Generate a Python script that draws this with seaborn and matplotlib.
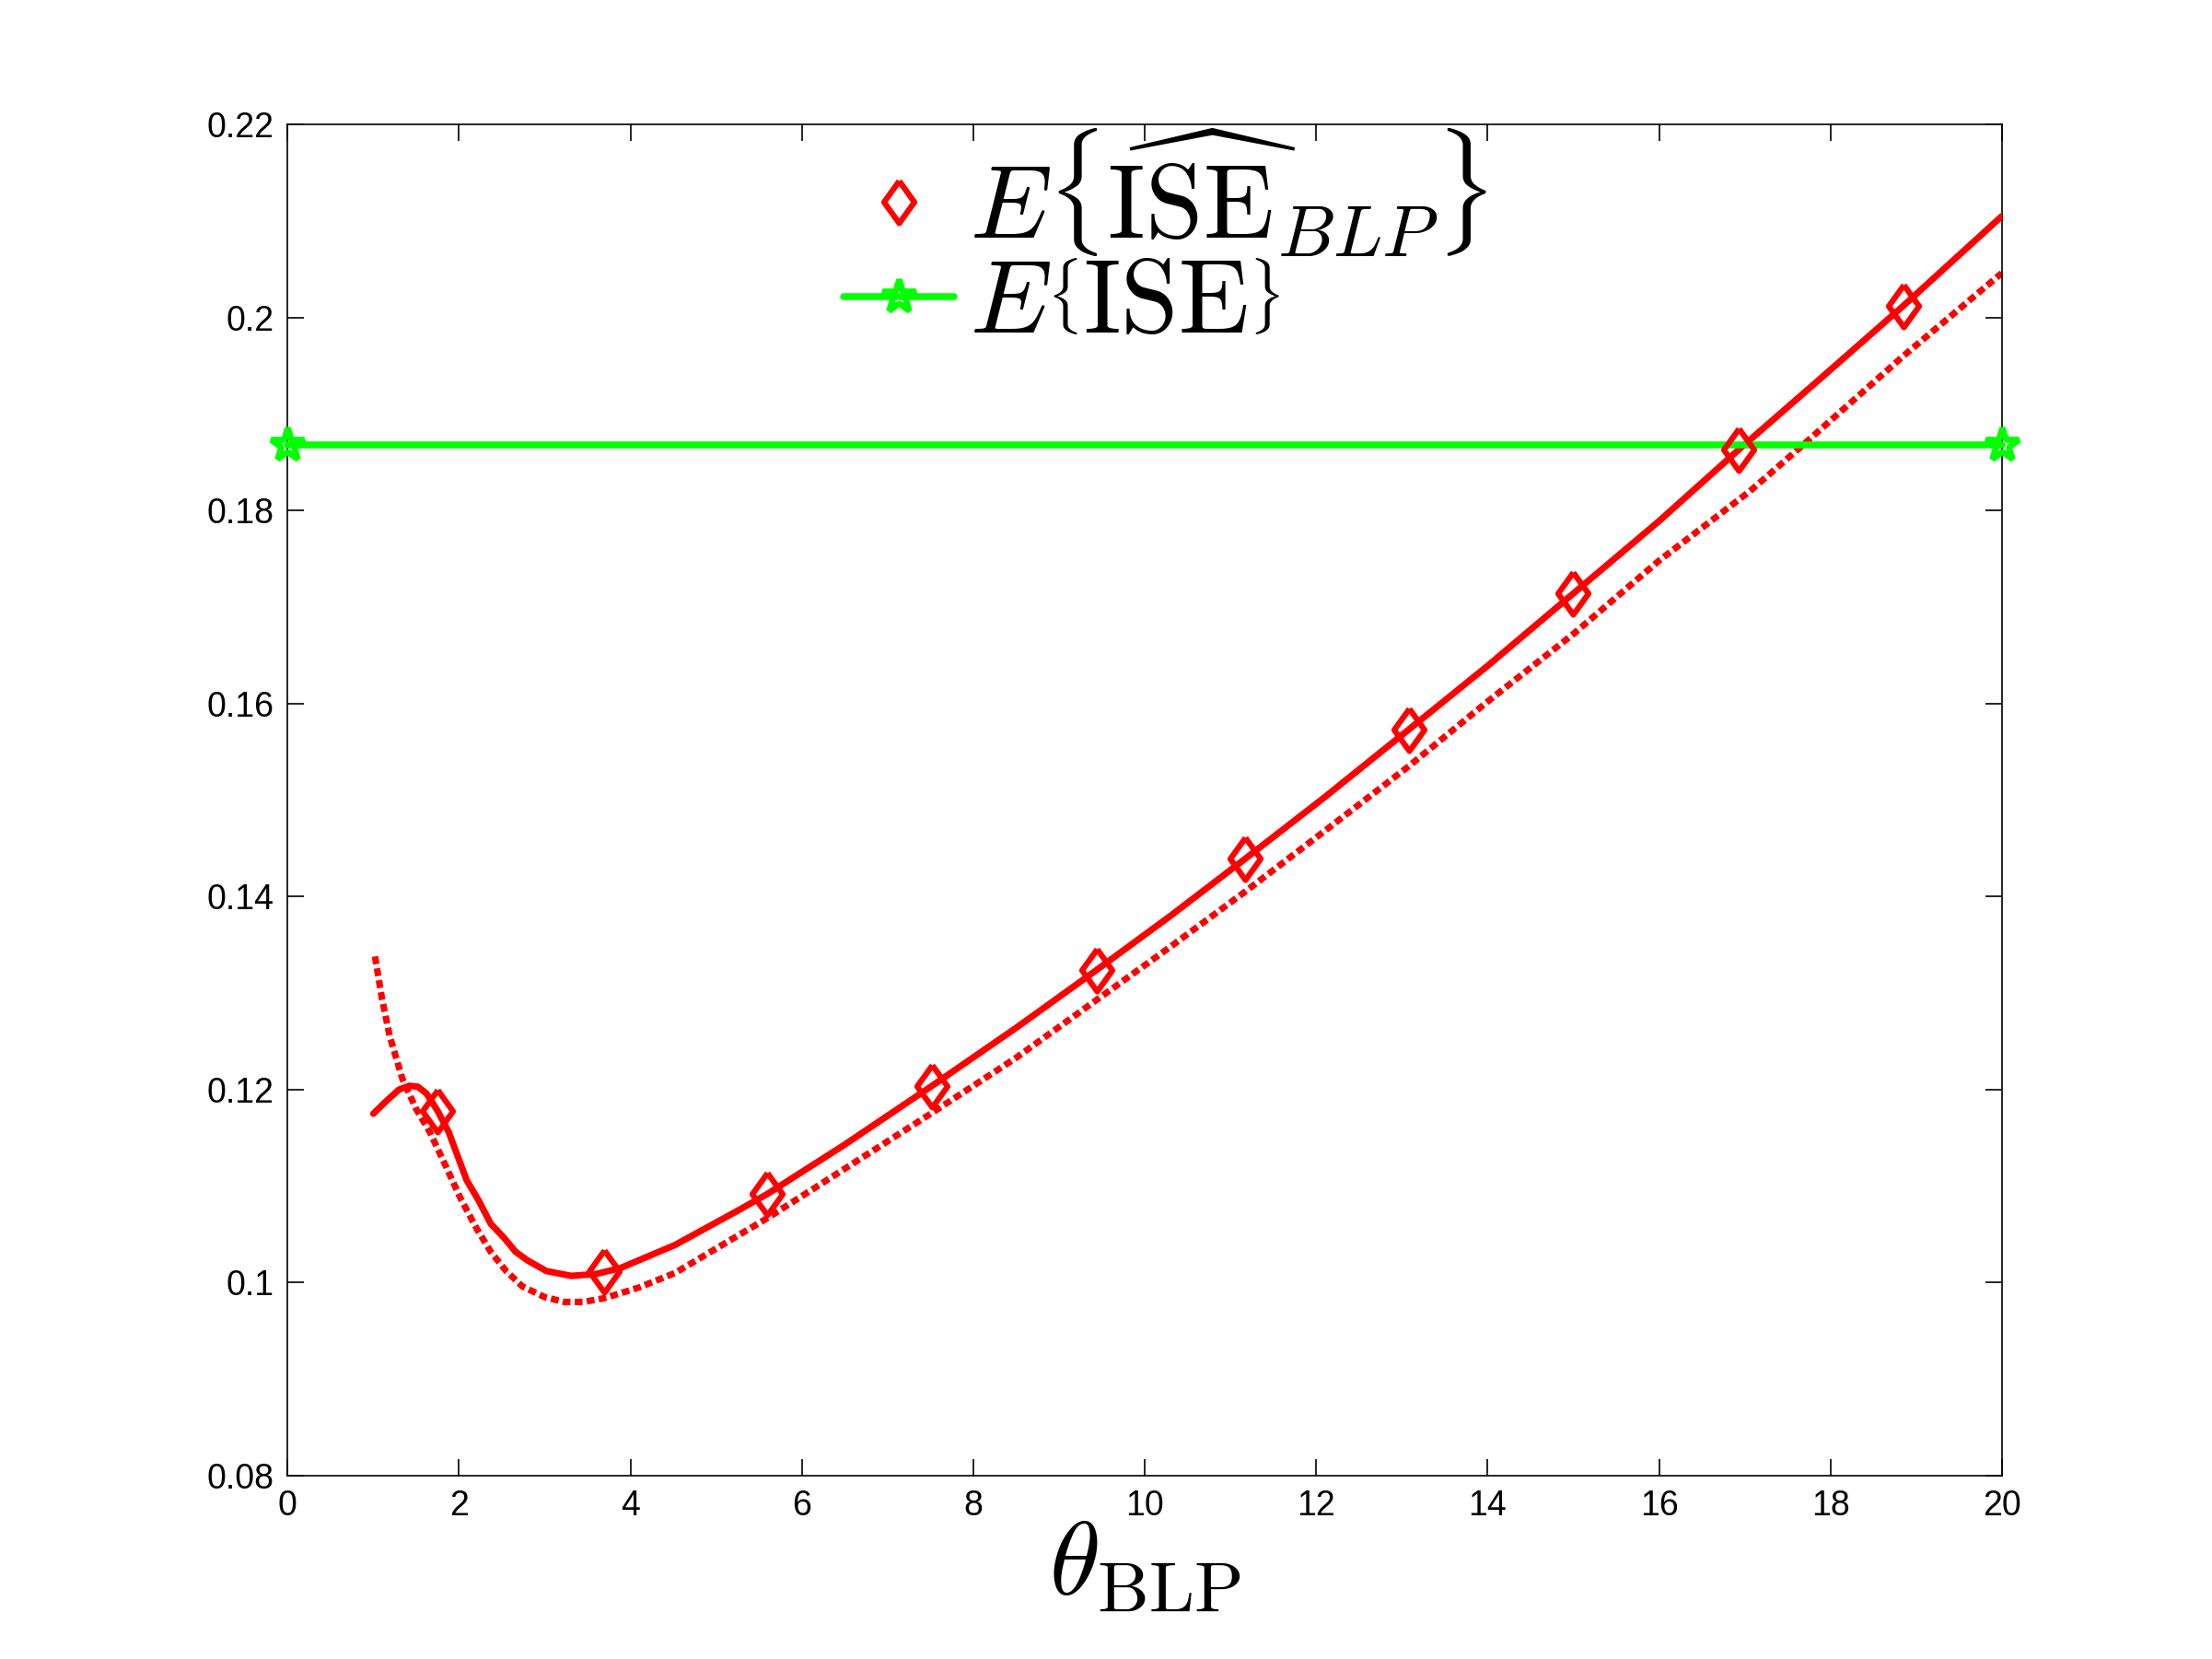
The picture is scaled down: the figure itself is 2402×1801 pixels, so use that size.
import matplotlib
matplotlib.use("Agg")
import matplotlib.pyplot as plt
import seaborn as sns
import pandas as pd
from matplotlib.lines import Line2D
from matplotlib.ticker import FuncFormatter

# --- DATA ---
theta_solid = [1.0, 1.15, 1.3, 1.42, 1.52, 1.62, 1.75, 1.88, 2.09, 2.23, 2.37, 2.52, 2.66,
               2.80, 3.02, 3.31, 3.6, 3.88, 4.52, 5.24, 5.6, 6.5, 7.52, 8.5, 9.44, 10.3,
               11.17, 12.1, 13.08, 14.0, 15.0, 16.0, 16.93, 17.9, 18.85, 20.0]
ise_hat_solid = [0.1175, 0.1188, 0.1200, 0.1204, 0.1203, 0.1196, 0.1178, 0.1156, 0.1106,
                 0.1085, 0.1061, 0.1047, 0.1032, 0.1023, 0.1012, 0.1007, 0.1009, 0.1015,
                 0.1039, 0.1074, 0.1092, 0.1143, 0.1204, 0.1264, 0.1324, 0.1380, 0.1439,
                 0.1503, 0.1573, 0.1639, 0.1714, 0.1789, 0.1863, 0.1938, 0.2012, 0.2105]

theta_dashed = [1.02, 1.1, 1.19, 1.34, 1.5, 1.66, 1.85, 2.02, 2.2, 2.37, 2.55, 2.74, 3.0,
                3.23, 3.45, 3.7, 4.1, 4.52, 5.24, 5.6, 6.5, 7.52, 8.5, 9.44, 10.3, 11.17,
                12.1, 13.08, 14.0, 15.0, 16.0, 17.06, 17.63, 18.85, 20.0]
ise_dashed = [0.1338, 0.1295, 0.1256, 0.1211, 0.1180, 0.1156, 0.1120, 0.1087, 0.1057,
              0.1032, 0.1012, 0.0996, 0.0985, 0.0980, 0.0980, 0.0984, 0.0995, 0.1010,
              0.1048, 0.1067, 0.1118, 0.1176, 0.1233, 0.1293, 0.1348, 0.1405, 0.1468,
              0.1535, 0.1602, 0.1672, 0.1748, 0.1820, 0.1864, 0.1960, 0.2046]

theta_markers = [1.75, 3.69, 5.6, 7.52, 9.44, 11.17, 13.08, 15.0, 16.93, 18.85]
ise_hat_markers = [0.1178, 0.1012, 0.1092, 0.1204, 0.1324, 0.1439, 0.1573, 0.1714,
                   0.1863, 0.2012]

theta_ise = [0, 20]
ise_true = [0.1868, 0.1868]

x_ticks = [0, 2, 4, 6, 8, 10, 12, 14, 16, 18, 20]
y_ticks = [0.08, 0.10, 0.12, 0.14, 0.16, 0.18, 0.20, 0.22]

# --- STYLE ---
sns.set_style("white")
plt.rcParams["font.family"] = ["Liberation Sans", "DejaVu Sans"]
plt.rcParams["mathtext.fontset"] = "cm"
plt.rcParams["text.color"] = "black"
plt.rcParams["axes.labelcolor"] = "black"

RED = "#ff0000"
GREEN = "#00ff00"
# diamond a bit wider than matplotlib's thin diamond
DIAMOND = [(0, 1), (0.72, 0), (0, -1), (-0.72, 0), (0, 1)]

fig = plt.figure(figsize=(2402 / 150, 1801 / 150), dpi=150)
ax = fig.add_axes([0.13, 0.1105, 0.775, 0.8145])

df_dashed = pd.DataFrame({"theta": theta_dashed, "ise": ise_dashed})
df_solid = pd.DataFrame({"theta": theta_solid, "ise": ise_hat_solid})
df_marks = pd.DataFrame({"theta": theta_markers, "ise": ise_hat_markers})
df_true = pd.DataFrame({"theta": theta_ise, "ise": ise_true})

sns.lineplot(data=df_dashed, x="theta", y="ise", ax=ax, color=RED, lw=3.4,
             linestyle=(0, (1.2, 0.65)), estimator=None, legend=False, zorder=2)
sns.lineplot(data=df_solid, x="theta", y="ise", ax=ax, color=RED, lw=3.4,
             estimator=None, legend=False, zorder=3)
sns.lineplot(data=df_true, x="theta", y="ise", ax=ax, color=GREEN, lw=3.6,
             marker="*", markersize=18, markerfacecolor="none", markeredgecolor=GREEN,
             markeredgewidth=3.2, estimator=None, legend=False, zorder=4, clip_on=False)
ax.plot(df_marks["theta"], df_marks["ise"], linestyle="none", marker=DIAMOND, markersize=22,
        markerfacecolor="none", markeredgecolor=RED, markeredgewidth=3, zorder=5)

ax.set_xlim(0, 20)
ax.set_ylim(0.08, 0.22)
ax.set_xticks(x_ticks)
ax.set_yticks(y_ticks)
ax.yaxis.set_major_formatter(FuncFormatter(lambda v, p: "%g" % round(v, 4)))
ax.tick_params(direction="in", length=8.5, width=0.8, labelsize=18, pad=7,
               top=True, right=True, bottom=True, left=True, colors="black",
               labelcolor="black")
for s in ax.spines.values():
    s.set_visible(True)
    s.set_color("black")
    s.set_linewidth(0.8)

ax.set_xlabel(r"$\theta_{\mathrm{BLP}}$", fontsize=54, labelpad=-2)
ax.set_ylabel("")

handles = [
    Line2D([], [], linestyle="none", marker=DIAMOND, markersize=22, markerfacecolor="none",
           markeredgecolor=RED, markeredgewidth=3),
    Line2D([], [], color=GREEN, lw=3.6, marker="*", markersize=18,
           markerfacecolor="none", markeredgecolor=GREEN, markeredgewidth=3.2),
]
labels = [r"$E\left\{\widehat{\mathrm{ISE}}_{BLP}\right\}$", r"$E\left\{\mathrm{ISE}\right\}$"]
ax.legend(handles, labels, loc="upper center", bbox_to_anchor=(0.512, 1.043), frameon=False,
          fontsize=54, handlelength=1.07, handletextpad=0.15, labelspacing=-0.03,
          borderpad=0.1)

fig.savefig("out.png", dpi=150, facecolor="white")
